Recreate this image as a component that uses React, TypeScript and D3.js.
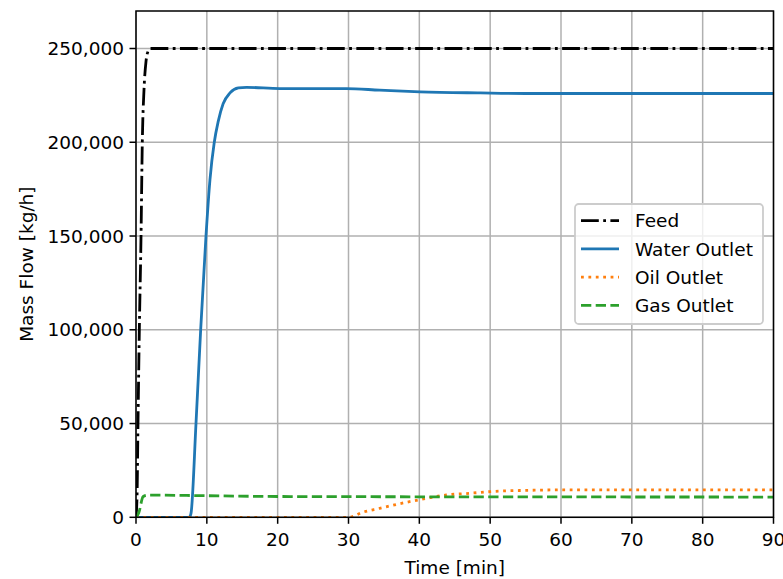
import React from "react";
import * as d3 from "d3";

const feedTime = [0, 0.15, 0.28, 0.47, 0.71, 0.89, 1.13, 1.41, 1.7, 2.0, 2.5, 90];
const feedFlow = [0, 12000, 50000, 100000, 150000, 200000, 228000, 243000, 248500, 250000, 250000, 250000];

const waterTime = [0, 7.5, 7.76, 8.47, 9.13, 9.88, 10.44, 11.05, 11.6, 12.3, 13.27, 14.45, 15.6, 20.3, 29.7, 34.4, 40.1, 48.6, 55, 90];
const waterFlow = [0, 0, 2000, 50000, 100000, 150000, 180000, 200000, 211000, 220500, 226300, 229000, 229300, 228600, 228600, 227800, 226900, 226300, 226000, 226000];

const oilTime = [0, 30, 32, 34.4, 36.8, 39.1, 41, 43.8, 47.1, 50, 55.6, 60, 70, 90];
const oilFlow = [0, 0, 2700, 4800, 6900, 8700, 10100, 11900, 12800, 13700, 14400, 14600, 14600, 14600];

const gasTime = [0, 0.4, 1.0, 1.5, 3, 10, 20, 30, 50, 90];
const gasFlow = [0, 2500, 11000, 11800, 11800, 11500, 11100, 11000, 10900, 10800];

const xTicks = [0, 10, 20, 30, 40, 50, 60, 70, 80, 90];
const yTicks = [0, 50000, 100000, 150000, 200000, 250000];

const seriesNames = ["Feed", "Water Outlet", "Oil Outlet", "Gas Outlet"];
const seriesColors = ["#000000", "#1f77b4", "#ff7f0e", "#2ca02c"];
const seriesDash = ["17.8,4.4,2.8,4.4", "", "2.8,4.6", "10.3,4.4"];

const W = 783;
const H = 579;
const L = 136, R = 773.5, T = 11, B = 517.3;
const FONT = "'DejaVu Sans', sans-serif";
const FS = 18.5;

export default function App() {
  const x = d3.scaleLinear().domain([0, 90]).range([L, R]);
  const y = d3.scaleLinear().domain([0, 270000]).range([B, T]);
  const fmt = d3.format(",");
  const line = d3
    .line<[number, number]>()
    .x((d) => x(d[0]))
    .y((d) => y(d[1]))
    .curve(d3.curveMonotoneX);

  const series = [
    { t: feedTime, v: feedFlow },
    { t: waterTime, v: waterFlow },
    { t: oilTime, v: oilFlow },
    { t: gasTime, v: gasFlow },
  ];

  const legX = 575, legY = 204, legW = 188, legH = 120;
  const rowY = [220.7, 248.9, 277.1, 305.3];

  return (
    <div style={{ position: "fixed", left: 0, top: 0 }}>
      <svg width={W} height={H} style={{ display: "block", background: "#fff" }} fontFamily={FONT}>
        <defs>
          <clipPath id="plotclip">
            <rect x={L} y={T} width={R - L} height={B - T} />
          </clipPath>
        </defs>
        <rect x={0} y={0} width={W} height={H} fill="#fff" />
        {xTicks.map((t) => (
          <line key={"gx" + t} x1={x(t)} x2={x(t)} y1={T} y2={B} stroke="#b0b0b0" strokeWidth={1.5} />
        ))}
        {yTicks.map((t) => (
          <line key={"gy" + t} x1={L} x2={R} y1={y(t)} y2={y(t)} stroke="#b0b0b0" strokeWidth={1.5} />
        ))}
        <g clipPath="url(#plotclip)">
          {series.map((s, i) => (
            <path
              key={seriesNames[i]}
              d={line(s.t.map((t, j) => [t, s.v[j]] as [number, number])) || ""}
              fill="none"
              stroke={seriesColors[i]}
              strokeWidth={2.8}
              strokeDasharray={seriesDash[i] || undefined}
            />
          ))}
        </g>
        <rect x={L} y={T} width={R - L} height={B - T} fill="none" stroke="#000" strokeWidth={1.5} />
        {xTicks.map((t) => (
          <g key={"xt" + t}>
            <line x1={x(t)} x2={x(t)} y1={B} y2={B + 6.5} stroke="#000" strokeWidth={1.5} />
            <text x={x(t)} y={546} textAnchor="middle" fontSize={FS} fill="#000">
              {t}
            </text>
          </g>
        ))}
        {yTicks.map((t) => (
          <g key={"yt" + t}>
            <line x1={L - 6.5} x2={L} y1={y(t)} y2={y(t)} stroke="#000" strokeWidth={1.5} />
            <text x={L - 12} y={y(t) + 6.7} textAnchor="end" fontSize={FS} fill="#000">
              {fmt(t)}
            </text>
          </g>
        ))}
        <text x={(L + R) / 2} y={573.5} textAnchor="middle" fontSize={FS} fill="#000">
          Time [min]
        </text>
        <text
          transform={`translate(32.5, ${(T + B) / 2}) rotate(-90)`}
          textAnchor="middle"
          fontSize={FS}
          fill="#000"
        >
          Mass Flow [kg/h]
        </text>
        <rect
          x={legX}
          y={legY}
          width={legW}
          height={legH}
          rx={3.7}
          fill="#fff"
          fillOpacity={0.8}
          stroke="#cccccc"
          strokeWidth={1.8}
        />
        {seriesNames.map((n, i) => (
          <g key={"leg" + n}>
            <line
              x1={581}
              x2={619}
              y1={rowY[i]}
              y2={rowY[i]}
              stroke={seriesColors[i]}
              strokeWidth={2.8}
              strokeDasharray={seriesDash[i] || undefined}
            />
            <text x={635} y={rowY[i] + 6.7} fontSize={FS} fill="#000">
              {n}
            </text>
          </g>
        ))}
      </svg>
    </div>
  );
}
